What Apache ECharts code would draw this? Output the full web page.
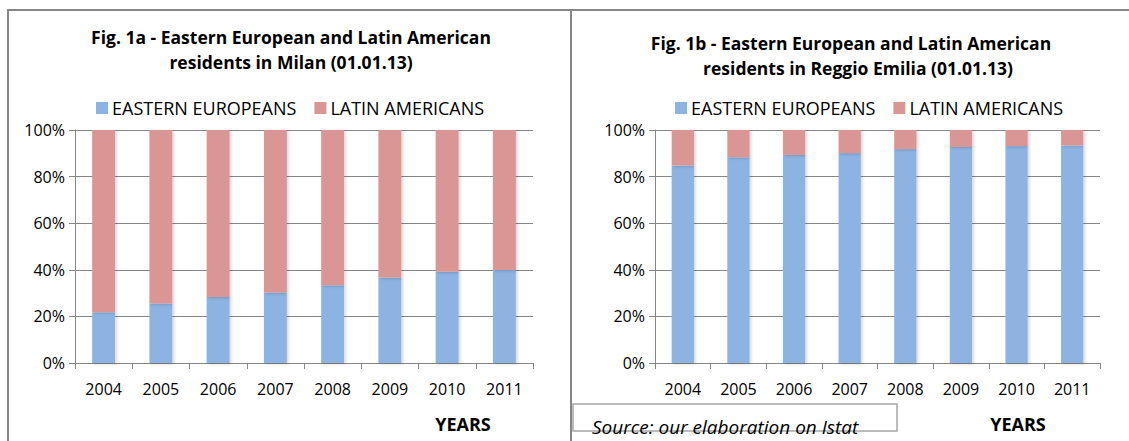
<!DOCTYPE html>
<html>
<head>
<meta charset="utf-8">
<script src="https://cdn.jsdelivr.net/npm/echarts@6/dist/echarts.min.js"></script>
<style>
html,body{margin:0;padding:0;background:#fff;}
#main{width:1129px;height:441px;}
</style>
</head>
<body>
<div id="main"></div>
<script>
const years = ['2004','2005','2006','2007','2008','2009','2010','2011'];
const milanEastern = [21.8, 25.5, 28.3, 30.3, 33.4, 36.7, 39.2, 39.9];
const milanLatin = [78.2, 74.5, 71.7, 69.7, 66.6, 63.3, 60.8, 60.1];
const reggioEastern = [84.8, 88.3, 89.3, 90.1, 91.8, 92.7, 93.1, 93.4];
const reggioLatin = [15.2, 11.7, 10.7, 9.9, 8.2, 7.3, 6.9, 6.6];
const yTicks = ['0%','20%','40%','60%','80%','100%'];
const seriesNames = ['EASTERN EUROPEANS', 'LATIN AMERICANS'];
const titleA = ['Fig. 1a - Eastern European and Latin American', 'residents in Milan (01.01.13)'];
const titleB = ['Fig. 1b - Eastern European and Latin American', 'residents in Reggio Emilia (01.01.13)'];
const axisTitle = 'YEARS';
const sourceText = 'Source: our elaboration on Istat';

const FONT = '"Open Sans", "Liberation Sans", sans-serif';
const BLUE = '#8DB3E2';
const PINK = '#D99694';
const GRAY = '#868686';

const chart = echarts.init(document.getElementById('main'), null, {renderer: 'svg'});

function xAxis(gi) {
  return {
    type: 'category', gridIndex: gi, data: years,
    axisLine: {show: true, lineStyle: {color: GRAY, width: 1}},
    axisTick: {show: true, alignWithLabel: false, length: 6, lineStyle: {color: GRAY}},
    axisLabel: {color: '#000', fontFamily: FONT, fontSize: 16, margin: 18}
  };
}
function yAxis(gi) {
  return {
    type: 'value', gridIndex: gi, min: 0, max: 100, interval: 20,
    axisLine: {show: true, lineStyle: {color: GRAY, width: 1}},
    axisTick: {show: true, length: 6, lineStyle: {color: GRAY}},
    splitLine: {show: true, lineStyle: {color: GRAY, width: 1}},
    axisLabel: {color: '#000', fontFamily: FONT, fontSize: 16, margin: 10,
      formatter: v => yTicks[Math.round(v / 20)]}
  };
}
const barShadow = {shadowColor: 'rgba(0,0,0,0.18)', shadowBlur: 3, shadowOffsetX: 1.5, shadowOffsetY: 1};
function bar(name, data, gi, color) {
  return {
    name, type: 'bar', stack: 's' + gi, xAxisIndex: gi, yAxisIndex: gi,
    data, barWidth: '40%', itemStyle: Object.assign({color}, barShadow),
    emphasis: {disabled: true}, animation: false
  };
}
function legend(leftX) {
  return {
    data: seriesNames, top: 99, left: leftX, itemWidth: 12, itemHeight: 12, itemGap: 18,
    icon: 'rect', selectedMode: false, padding: 0,
    textStyle: {color: '#000', fontFamily: FONT, fontSize: 18, padding: [0, 0, 0, -1]}
  };
}
function titleLine(x, y, text) {
  return {
    type: 'text', x: x, y: y,
    style: {text: text, fill: '#000', font: 'bold 17.5px ' + FONT,
      textAlign: 'center', textVerticalAlign: 'middle'}
  };
}

const option = {
  backgroundColor: '#fff',
  animation: false,
  grid: [
    {left: 75, top: 130, width: 458, height: 233},
    {left: 655, top: 130, width: 445, height: 233}
  ],
  xAxis: [xAxis(0), xAxis(1)],
  yAxis: [yAxis(0), yAxis(1)],
  legend: [legend(96), legend(675)],
  series: [
    bar(seriesNames[0], milanEastern, 0, BLUE),
    bar(seriesNames[1], milanLatin, 0, PINK),
    bar(seriesNames[0], reggioEastern, 1, BLUE),
    bar(seriesNames[1], reggioLatin, 1, PINK)
  ],
  graphic: [
    {type: 'line', shape: {x1: 7, y1: 10, x2: 1129, y2: 10}, style: {stroke: GRAY, lineWidth: 2}},
    {type: 'line', shape: {x1: 8, y1: 9, x2: 8, y2: 441}, style: {stroke: GRAY, lineWidth: 2}},
    {type: 'line', shape: {x1: 571, y1: 9, x2: 571, y2: 441}, style: {stroke: GRAY, lineWidth: 2}},
    titleLine(291, 37, titleA[0]),
    titleLine(291, 62, titleA[1]),
    titleLine(851, 43, titleB[0]),
    titleLine(858, 68, titleB[1]),
    {type: 'text', x: 463, y: 424, style: {text: axisTitle, fill: '#000', font: 'bold 18px ' + FONT, textAlign: 'center', textVerticalAlign: 'middle'}},
    {type: 'text', x: 1018, y: 424, style: {text: axisTitle, fill: '#000', font: 'bold 18px ' + FONT, textAlign: 'center', textVerticalAlign: 'middle'}},
    {type: 'rect', shape: {x: 573, y: 404, width: 324, height: 27}, style: {fill: 'none', stroke: '#A6A6A6', lineWidth: 1.5}},
    {type: 'text', x: 592, y: 427, style: {text: sourceText, fill: '#000', font: 'italic 19px ' + FONT, textAlign: 'left', textVerticalAlign: 'middle'}}
  ]
};
chart.setOption(option);
</script>
</body>
</html>
